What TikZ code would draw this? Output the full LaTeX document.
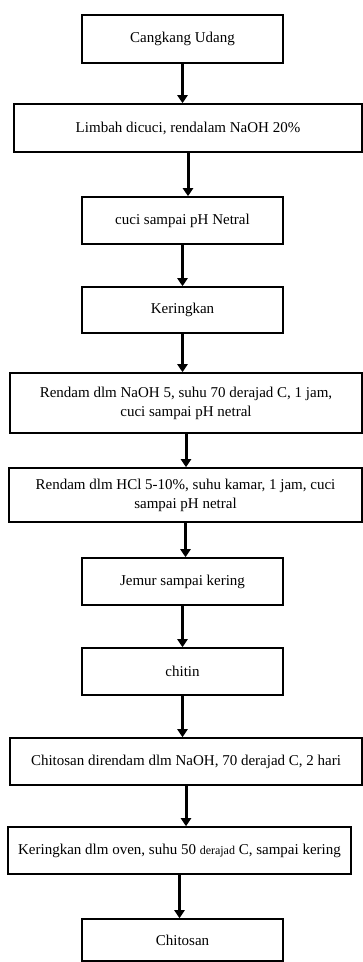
\documentclass[tikz,border=0pt]{standalone}
\usepackage{fontspec}
\setmainfont{Liberation Serif}
\usetikzlibrary {arrows.meta}

\begin{document}
\begin{tikzpicture}[x=1pt,y=-1pt,
		proses/.style={draw, line width=1.6pt, inner sep=2pt, align=center,
			font=\fontsize{15}{19}\selectfont},
		kecil/.style={proses, minimum width=201pt},
		lebar/.style={proses},
		panah/.style={line width=3pt, -{Triangle[width=10pt,length=8pt]}}]
		\useasboundingbox (0,0) rectangle (363,962);
		\node[kecil, minimum height=48pt] (udang) at (182.5,39) {Cangkang Udang};
		\node[lebar, minimum width=348pt, minimum height=48pt] (limbah) at (188,128) {Limbah dicuci, rendalam NaOH 20\%};
		\node[kecil, minimum height=47pt] (cuci) at (182.5,220.5) {cuci sampai pH Netral};
		\node[kecil, minimum height=46pt] (kering) at (182.5,310) {Keringkan};
		\node[lebar, minimum width=352pt, minimum height=60pt] (naoh) at (186,403) {Rendam dlm NaOH 5, suhu 70 derajad C, 1 jam,\\ cuci sampai pH netral};
		\node[lebar, minimum width=353pt, minimum height=54pt] (hcl) at (185.5,495) {Rendam dlm HCl 5-10\%, suhu kamar, 1 jam, cuci\\ sampai pH netral};
		\node[kecil, minimum height=47pt] (jemur) at (182.5,581.5) {Jemur sampai kering};
		\node[kecil, minimum height=47pt] (chitin) at (182.5,671.5) {chitin};
		\node[lebar, minimum width=352pt, minimum height=47pt] (rendam) at (186,761.5) {Chitosan direndam dlm NaOH, 70 derajad C, 2 hari};
		\node[lebar, minimum width=343pt, minimum height=47pt] (oven) at (179.5,850.5) {Keringkan dlm oven, suhu 50 {\fontsize{12}{14}\selectfont derajad} C, sampai kering};
		\node[kecil, minimum height=42pt] (chitosan) at (182.5,940) {Chitosan};
		% panah antar proses
		\draw[panah] (udang.south) -- (udang.south |- limbah.north);
		\draw[panah] (limbah.south) -- (limbah.south |- cuci.north);
		\draw[panah] (cuci.south) -- (cuci.south |- kering.north);
		\draw[panah] (kering.south) -- (kering.south |- naoh.north);
		\draw[panah] (naoh.south) -- (naoh.south |- hcl.north);
		\draw[panah] (hcl.south) -- (hcl.south |- jemur.north);
		\draw[panah] (jemur.south) -- (jemur.south |- chitin.north);
		\draw[panah] (chitin.south) -- (chitin.south |- rendam.north);
		\draw[panah] (rendam.south) -- (rendam.south |- oven.north);
		\draw[panah] (oven.south) -- (oven.south |- chitosan.north);
	\end{tikzpicture}
\end{document}
